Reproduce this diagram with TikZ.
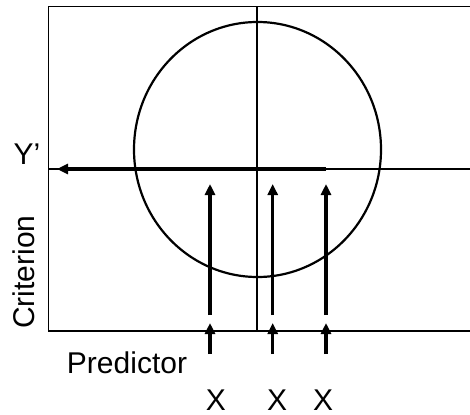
\documentclass[tikz,border=0pt]{standalone}
\usepackage{fontspec}
\setmainfont{Liberation Sans}
\usetikzlibrary{arrows.meta}
\tikzset{
  thinline/.style={line width=1.4pt, black},
  thickarrow/.style={line width=3.2pt, -{Triangle[length=11pt,width=10pt]}},
  circ/.style={line width=2.2pt},
  lbl/.style={font=\fontsize{30}{34}\selectfont, inner sep=0pt}
}
\begin{document}
\begin{tikzpicture}[x=1pt,y=-1pt]
\useasboundingbox (0,0) rectangle (470,414);
% frame
\coordinate (tr) at (470,6.5);
\coordinate (tl) at (48.7,6.5);
\coordinate (bl) at (48.7,331);
\coordinate (br) at (470,331);
\draw[thinline] (tr) -- (tl) -- (bl) -- (br);
% axes
\coordinate (vtop) at (257,6.5);
\coordinate (vbot) at (257,331);
\draw[thinline] (vtop) -- (vbot);
\coordinate (hl) at (48.7,169);
\coordinate (hr) at (470,169);
\draw[thinline] (hl) -- (hr);
% circle
\coordinate (cc) at (257.5,149.5);
\draw[circ] (cc) ellipse [x radius=123.5, y radius=127.5];
% Y' arrow
\coordinate (ys) at (326,169);
\coordinate (ye) at (57,169);
\draw[thickarrow] (ys) -- (ye);
% predictor arrows
\foreach \n/\x in {a/210,b/272.7,c/326}{
  \coordinate (l\n s) at (\x,315);
  \coordinate (l\n e) at (\x,184);
  \coordinate (s\n s) at (\x,354);
  \coordinate (s\n e) at (\x,323);
  \draw[thickarrow] (l\n s) -- (l\n e);
  \draw[thickarrow] (s\n s) -- (s\n e);
}
% labels
\node[lbl] (yp) at (27,154) {Y'};
\node[lbl, rotate=90] (crit) at (24,272) {Criterion};
\node[lbl] (pred) at (127,363) {Predictor};
\node[lbl] (x1) at (216,400) {X};
\node[lbl] (x2) at (277,400) {X};
\node[lbl] (x3) at (323,400) {X};
\end{tikzpicture}
\end{document}
